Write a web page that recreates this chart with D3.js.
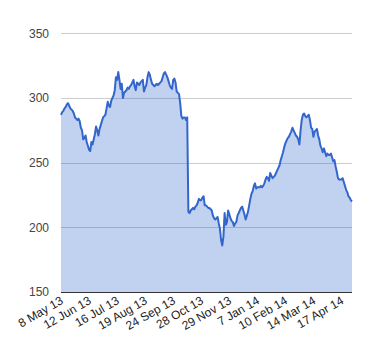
<!DOCTYPE html>
<html>
<head>
<meta charset="utf-8">
<script src="https://cdn.jsdelivr.net/npm/d3@7"></script>
<style>
  body { margin: 0; background: #fff; }
  svg { display: block; }
  text { font-family: Arial, "Liberation Sans", sans-serif; }
</style>
</head>
<body>
<svg id="chart" width="380" height="360"></svg>
<script>
// Daily closing values, 8 May 13 .. end Apr 14 (one per trading day)
const values = [
  287,289,290,292,293,295,296,294,292,291,
  290,288,285,284,283,284,282,277,275,268,
  269,271,266,263,260,259,266,264,268,272,
  278,275,271,276,279,282,285,286,287,292,
  297,294,293,298,300,302,306,316,314,320,
  314,307,311,300,304,305,306,308,307,309,
  310,312,314,309,306,312,311,310,312,313,
  314,305,308,310,316,320,318,314,311,310,
  309,310,311,310,311,312,313,316,319,320,
  318,316,313,310,308,307,314,315,312,305,
  304,303,296,286,284,285,285,283,285,212,
  211,213,214,215,214,216,217,219,222,221,
  221,223,224,217,217,216,215,215,214,213,
  209,207,206,207,208,203,199,190,186,193,
  211,202,204,213,210,207,205,204,201,203,
  204,209,211,213,215,216,213,210,206,209,
  212,217,222,226,228,232,234,230,231,231,
  231,232,231,232,234,237,239,238,236,242,
  240,238,239,240,242,244,246,248,252,255,
  258,262,265,267,269,270,272,274,277,275,
  273,271,270,268,264,275,283,287,288,286,
  285,286,287,283,277,276,270,274,275,276,
  271,268,263,261,258,261,258,255,257,256,
  256,257,254,251,252,247,243,238,237,237,
  237,238,235,232,229,227,224,223,221,220
];
// Category tick labels and the trading-day index they sit on
const tickLabels = ["8 May 13","12 Jun 13","16 Jul 13","19 Aug 13","24 Sep 13","28 Oct 13","29 Nov 13","7 Jan 14","10 Feb 14","14 Mar 14","17 Apr 14"];
const tickIndex = [0,24,48,72,96,120,144,168,192,216,240];
const yTicks = [150,200,250,300,350];

const svg = d3.select("#chart");
const pLeft = 61, pRight = 352, pTop = 33.3, pBottom = 292;

const x = d3.scaleLinear().domain([0, values.length - 1]).range([pLeft, pRight]);
const y = d3.scaleLinear().domain([150, 350]).range([pBottom, pTop]);

// gridlines
svg.append("g").selectAll("line").data(yTicks.filter(t => t !== 150)).join("line")
  .attr("x1", pLeft).attr("x2", pRight)
  .attr("y1", d => Math.round(y(d)) + 0.5).attr("y2", d => Math.round(y(d)) + 0.5)
  .attr("stroke", "#cccccc").attr("stroke-width", 1);

// area
const area = d3.area().x((d, i) => x(i)).y0(y(150)).y1(d => y(d));
svg.append("path").datum(values).attr("d", area)
  .attr("fill", "#3366cc").attr("fill-opacity", 0.3);

// line
const line = d3.line().x((d, i) => x(i)).y(d => y(d));
svg.append("path").datum(values).attr("d", line)
  .attr("fill", "none").attr("stroke", "#3366cc").attr("stroke-width", 2)
  .attr("stroke-linejoin", "round");

// baseline
svg.append("line").attr("x1", pLeft).attr("x2", pRight)
  .attr("y1", Math.round(y(150)) + 0.5).attr("y2", Math.round(y(150)) + 0.5)
  .attr("stroke", "#333333").attr("stroke-width", 1);

// y labels
svg.append("g").selectAll("text").data(yTicks).join("text")
  .attr("x", 49).attr("y", d => y(d)).attr("dy", "0.35em")
  .attr("text-anchor", "end").attr("font-size", 12).attr("fill", "#444")
  .text(d => d);

// x labels (slanted)
svg.append("g").selectAll("text").data(tickLabels).join("text")
  .attr("text-anchor", "end").attr("font-size", 12).attr("fill", "#222")
  .attr("transform", (d, i) => `translate(${x(tickIndex[i]) + 3},${pBottom + 11}) rotate(-30)`)
  .text(d => d);
</script>
</body>
</html>
